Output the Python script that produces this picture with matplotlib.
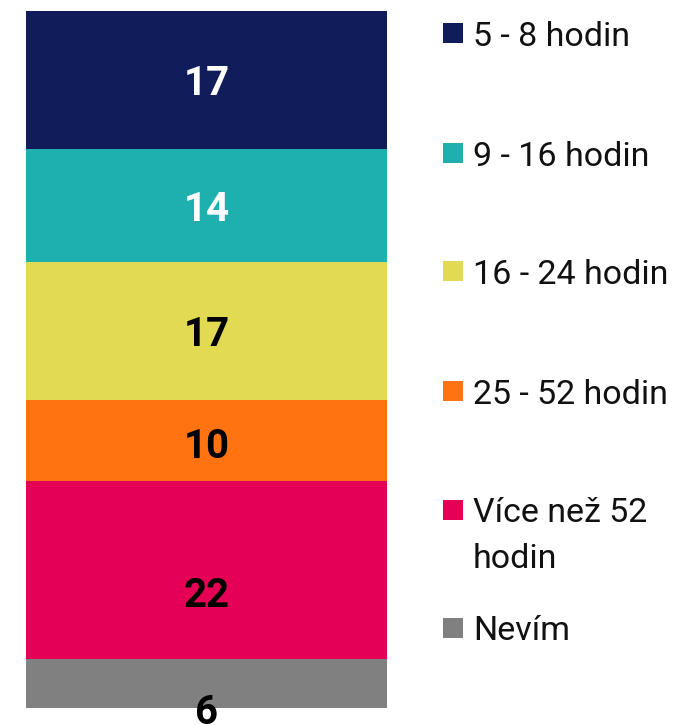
import numpy as np
import matplotlib.pyplot as plt
from matplotlib.patches import Rectangle

# Data
categories = ['5 - 8 hodin', '9 - 16 hodin', '16 - 24 hodin', '25 - 52 hodin',
              'Více než 52\nhodin', 'Nevím']
values = [17, 14, 17, 10, 22, 6]
colors = ['#111c5a', '#1eb0ae', '#e2da53', '#ff7411', '#e50055', '#808080']
label_colors = ['white', 'white', 'black', 'black', 'black', 'black']
# the two lower labels sit a bit below the middle of their segment
label_shift = [0, 0, 0, 0.3, 2.7, 3.1]

plt.rcParams['font.family'] = ['Roboto', 'DejaVu Sans']

fig = plt.figure(figsize=(6.84, 7.25), dpi=100)
W, H = 684, 725
ax = fig.add_axes([26 / W, 17 / H, 361 / W, 697 / H])

bottoms = np.concatenate(([0], np.cumsum(values)[:-1]))
for i in range(len(values)):
    ax.bar(0, values[i], bottom=bottoms[i], width=1.0, color=colors[i], linewidth=0)
    ax.text(0, bottoms[i] + values[i] / 2 + label_shift[i], str(values[i]),
            ha='center', va='center_baseline', fontsize=29, fontweight='bold',
            color=label_colors[i], clip_on=False)

ax.set_xlim(-0.5, 0.5)
ax.set_ylim(sum(values), 0)
ax.axis('off')

# Legend drawn by hand so the square lines up with the first text line
legend_y = [33, 153, 271, 391, 510, 628]
for i, cat in enumerate(categories):
    yc = legend_y[i]
    fig.add_artist(Rectangle((443 / W, 1 - (yc + 10) / H), 20 / W, 20 / H,
                             transform=fig.transFigure, color=colors[i], lw=0))
    lines = cat.split('\n')
    for j, line in enumerate(lines):
        fig.text(473 / W, 1 - (yc + 45 * j) / H, line, ha='left', va='center_baseline',
                 fontsize=24.5, color='#111111')

fig.savefig('out.png', dpi=100)
